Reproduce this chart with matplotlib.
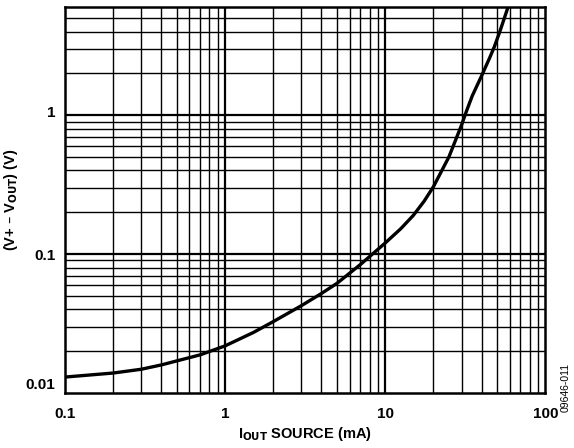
import numpy as np
import matplotlib.pyplot as plt
import matplotlib.transforms as mtransforms
from matplotlib.ticker import FixedLocator, NullLocator

plt.rcParams['font.family'] = ['Liberation Sans', 'DejaVu Sans']
plt.rcParams['mathtext.default'] = 'bf'

# curve
i_out = [0.1, 0.2, 0.3, 0.4, 0.5, 0.7, 1, 1.5, 2, 3, 4, 5, 7, 10, 12.5, 15,
         17.5, 20, 25, 30, 32, 35, 40, 45, 48, 52, 55, 58.5]
v_drop = [0.0130, 0.0139, 0.0148, 0.0159, 0.0170, 0.0188, 0.0218, 0.0272,
          0.0326, 0.0425, 0.052, 0.0615, 0.084, 0.120, 0.152, 0.190,
          0.240, 0.305, 0.50, 0.85, 1.05, 1.38, 1.92, 2.6, 3.1, 4.0, 4.85, 6.0]

x_ticks = [0.1, 1, 10, 100]
x_labels = ['0.1', '1', '10', '100']
y_ticks = [0.01, 0.1, 1]
y_labels = ['0.01', '0.1', '1']

fig = plt.figure(figsize=(5.74, 4.48), dpi=100)
ax = fig.add_axes([0.113, 0.123, 0.837, 0.861])

ax.set_xscale('log')
ax.set_yscale('log')
ax.set_xlim(0.1, 100)
ax.set_ylim(0.01, 6)

# grid
xminor = [m * 10.0 ** e for e in range(-1, 2) for m in range(2, 10)]
yminor = [m * 10.0 ** e for e in range(-2, 1) for m in range(2, 10)]
for v in xminor:
    ax.axvline(v, color='black', lw=1.0, zorder=1)
for v in [1, 10]:
    ax.axvline(v, color='black', lw=1.6, zorder=1)
for v in yminor:
    if v < 6:
        ax.axhline(v, color='black', lw=1.0, zorder=1)
for v in [0.1, 1]:
    ax.axhline(v, color='black', lw=1.6, zorder=1)

ax.plot(i_out, v_drop, color='black', lw=2.4, zorder=3, solid_capstyle='butt')

ax.xaxis.set_major_locator(FixedLocator(x_ticks))
ax.set_xticklabels(x_labels)
ax.yaxis.set_major_locator(FixedLocator(y_ticks))
ax.set_yticklabels(y_labels)
ax.xaxis.set_minor_locator(NullLocator())
ax.yaxis.set_minor_locator(NullLocator())
ax.tick_params(length=0, labelsize=11)
ax.tick_params(axis='x', pad=10)
ax.tick_params(axis='y', pad=7)
for lab in ax.get_xticklabels() + ax.get_yticklabels():
    lab.set_fontweight('bold')

# nudge the y labels up like the original
ylabs = ax.get_yticklabels()
ylabs[0].set_transform(ylabs[0].get_transform() + mtransforms.ScaledTranslation(0, 9 / 100, fig.dpi_scale_trans))
ylabs[2].set_transform(ylabs[2].get_transform() + mtransforms.ScaledTranslation(0, 4 / 100, fig.dpi_scale_trans))

for s in ax.spines.values():
    s.set_linewidth(1.8)

ax.set_xlabel('I$_{\\mathbf{OUT}}$ SOURCE (mA)', fontsize=10.5, fontweight='bold', labelpad=3)
ax.set_ylabel('(V+ – V$_{\\mathbf{OUT}}$) (V)', fontsize=10.5, fontweight='bold')
ax.yaxis.set_label_coords(-0.094, 0.5)

fig.text(0.986, 0.135, '09646-011', rotation=90, fontsize=7.5, ha='center', va='center')

fig.savefig('out.png', dpi=100)
